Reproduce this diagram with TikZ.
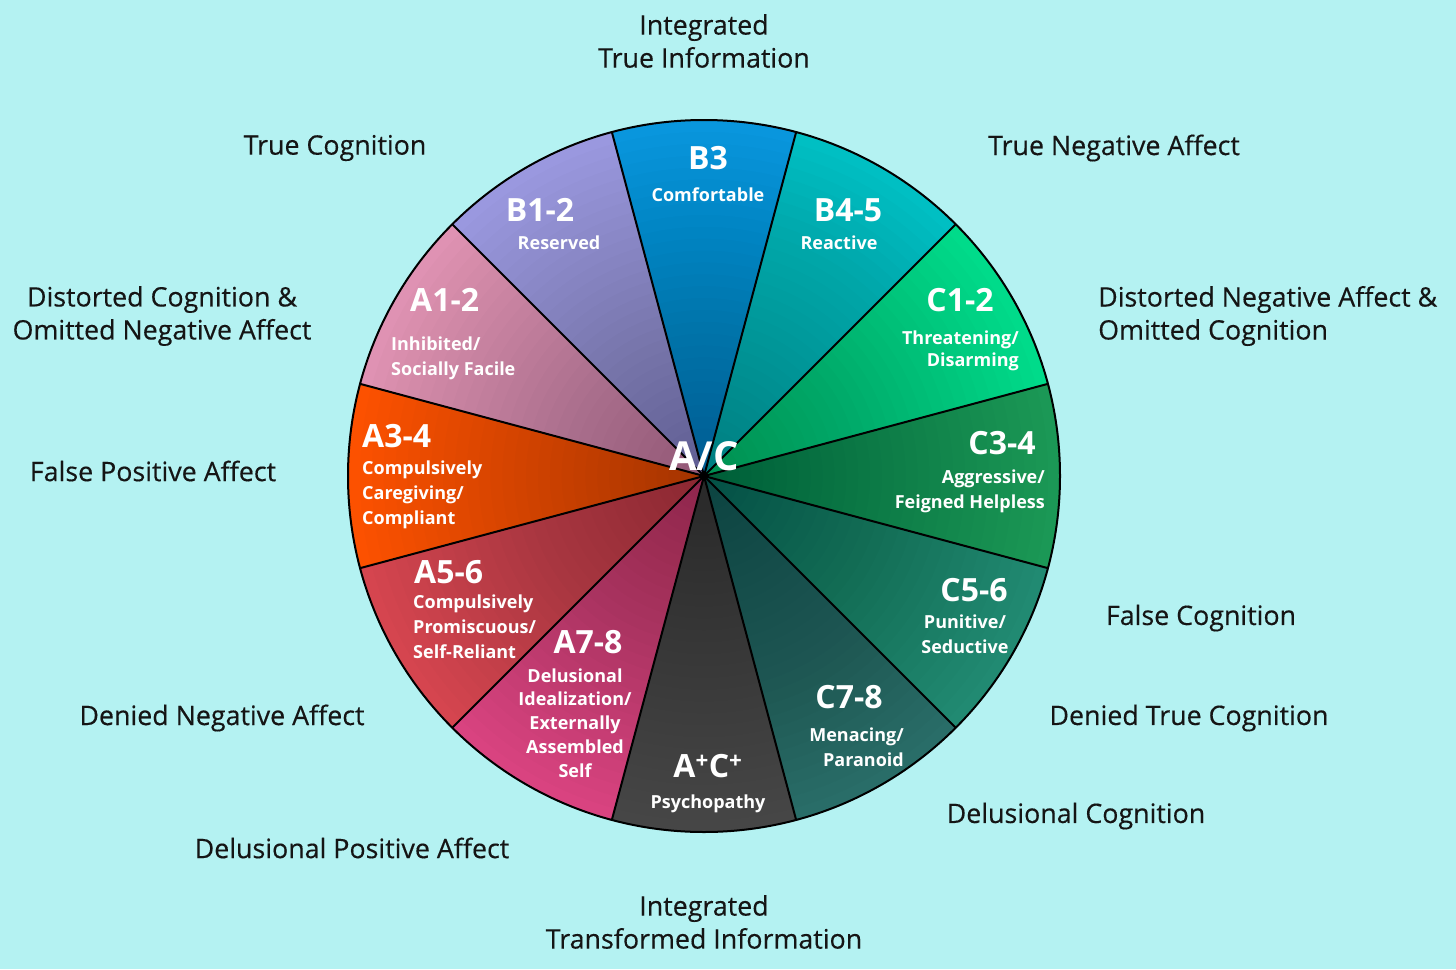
\documentclass[tikz,border=0pt]{standalone}
\usepackage{fontspec}
\setmainfont{Open Sans}
\newfontfamily\outfont[FakeBold=0.35]{Open Sans}
\definecolor{bgc}{HTML}{B4F2F2}
\definecolor{cB12}{HTML}{9C9AE2}
\definecolor{cB3}{HTML}{0A98E0}
\definecolor{cB45}{HTML}{00C2C6}
\definecolor{cC12}{HTML}{00DE8C}
\definecolor{cC34}{HTML}{1C9A58}
\definecolor{cC56}{HTML}{228C74}
\definecolor{cC78}{HTML}{2A6F6A}
\definecolor{cAC}{HTML}{474747}
\definecolor{cA78}{HTML}{DC4482}
\definecolor{cA56}{HTML}{D84650}
\definecolor{cA34}{HTML}{FF5200}
\definecolor{cA12}{HTML}{E294B6}
\definecolor{txt}{HTML}{151515}
\begin{document}
\begin{tikzpicture}[x=1pt,y=-1pt,
  seclab/.style={text=white,font=\bfseries\fontsize{32}{36}\selectfont,inner sep=0pt},
  subl/.style={text=white,font=\bfseries\fontsize{18}{25}\selectfont,inner sep=0pt},
  outl/.style={text=txt,font=\outfont\fontsize{26.8}{33}\selectfont,inner sep=0pt},
  sepline/.style={line width=2pt,black}]
\fill[bgc] (0,0) rectangle (1456,969);
\useasboundingbox (0,0) rectangle (1456,969);
\coordinate (c) at (704,476);
\def\R{356}
% sectors (angles measured clockwise because y points down)
\foreach \ang/\col in {-90/cB3,-60/cB45,-30/cC12,0/cC34,30/cC56,60/cC78,90/cAC,120/cA78,150/cA56,180/cA34,210/cA12,240/cB12}{
  \pgfmathsetmacro{\aa}{\ang-15}
  \pgfmathsetmacro{\ab}{\ang+15}
  \fill[\col] (c) -- ++(\aa:\R) arc[start angle=\aa,end angle=\ab,radius=\R] -- cycle;
}
% darkening toward the centre
\foreach \i in {1,...,30}{
  \pgfmathsetmacro{\rr}{\R*\i/30}
  \fill[black,fill opacity=0.012] (c) circle (\rr);
}
% separators
\foreach \a in {15,45,...,345}{
  \draw[sepline] (c) -- ++(\a:\R);
}
\draw[line width=2pt] (c) circle (\R);
% centre label
\node[text=white,font=\bfseries\fontsize{40}{44}\selectfont,inner sep=0pt] (ac) at (704,456) {A/C};
% segment labels
\node[seclab] (b3) at (708,158) {B3};
\node[subl] (b3s) at (708,195) {Comfortable};
\node[seclab] (b45) at (848,210) {B4-5};
\node[subl] (b45s) at (839,243) {Reactive};
\node[seclab] (b12) at (540,210) {B1-2};
\node[subl] (b12s) at (559,243) {Reserved};
\node[seclab] (c12) at (960,300) {C1-2};
\node[subl,align=right,anchor=east,font=\bfseries\fontsize{18}{22}\selectfont] (c12s) at (1019,351) {Threatening/\\Disarming};
\node[seclab] (c34) at (1002,443) {C3-4};
\node[subl,align=right,anchor=east] (c34s) at (1045,491) {Aggressive/\\Feigned Helpless};
\node[seclab] (c56) at (974,590) {C5-6};
\node[subl,align=center] (c56s) at (965,634) {Punitive/\\Seductive};
\node[seclab] (c78) at (849,697) {C7-8};
\node[subl,align=right,anchor=east] (c78s) at (904,747) {Menacing/\\Paranoid};
\node[seclab] (acp) at (708,766) {A\textsuperscript{+}C\textsuperscript{+}};
\node[subl] (acps) at (708,804) {Psychopathy};
\node[seclab] (a78) at (588,642) {A7-8};
\node[subl,align=center,font=\bfseries\fontsize{18}{23.8}\selectfont] (a78s) at (575,723) {Delusional\\Idealization/\\Externally\\Assembled\\Self};
\node[seclab,anchor=west] (a56) at (414,572) {A5-6};
\node[subl,align=left,anchor=west] (a56s) at (413,627) {Compulsively\\Promiscuous/\\Self-Reliant};
\node[seclab,anchor=west] (a34) at (362,436) {A3-4};
\node[subl,align=left,anchor=west] (a34s) at (362,495) {Compulsively\\Caregiving/\\Compliant};
\node[seclab,anchor=west] (a12) at (410,300) {A1-2};
\node[subl,align=left,anchor=west] (a12s) at (391,358) {Inhibited/\\Socially Facile};
% outer labels
\node[outl,align=center] (o1) at (704,41) {Integrated\\True Information};
\node[outl] (o2) at (335,148) {True Cognition};
\node[outl] (o3) at (1114,148) {True Negative Affect};
\node[outl,align=center] (o4) at (162,316) {Distorted Cognition \&\\Omitted Negative Affect};
\node[outl,align=left,anchor=west] (o5) at (1098,316) {Distorted Negative Affect \&\\Omitted Cognition};
\node[outl] (o6) at (153,471) {False Positive Affect};
\node[outl] (o7) at (1201,618) {False Cognition};
\node[outl] (o8) at (222,718) {Denied Negative Affect};
\node[outl] (o9) at (1189,718) {Denied True Cognition};
\node[outl] (o10) at (1076,816) {Delusional Cognition};
\node[outl] (o11) at (352,848) {Delusional Positive Affect};
\node[outl,align=center] (o12) at (704,922) {Integrated\\Transformed Information};
\end{tikzpicture}
\end{document}
